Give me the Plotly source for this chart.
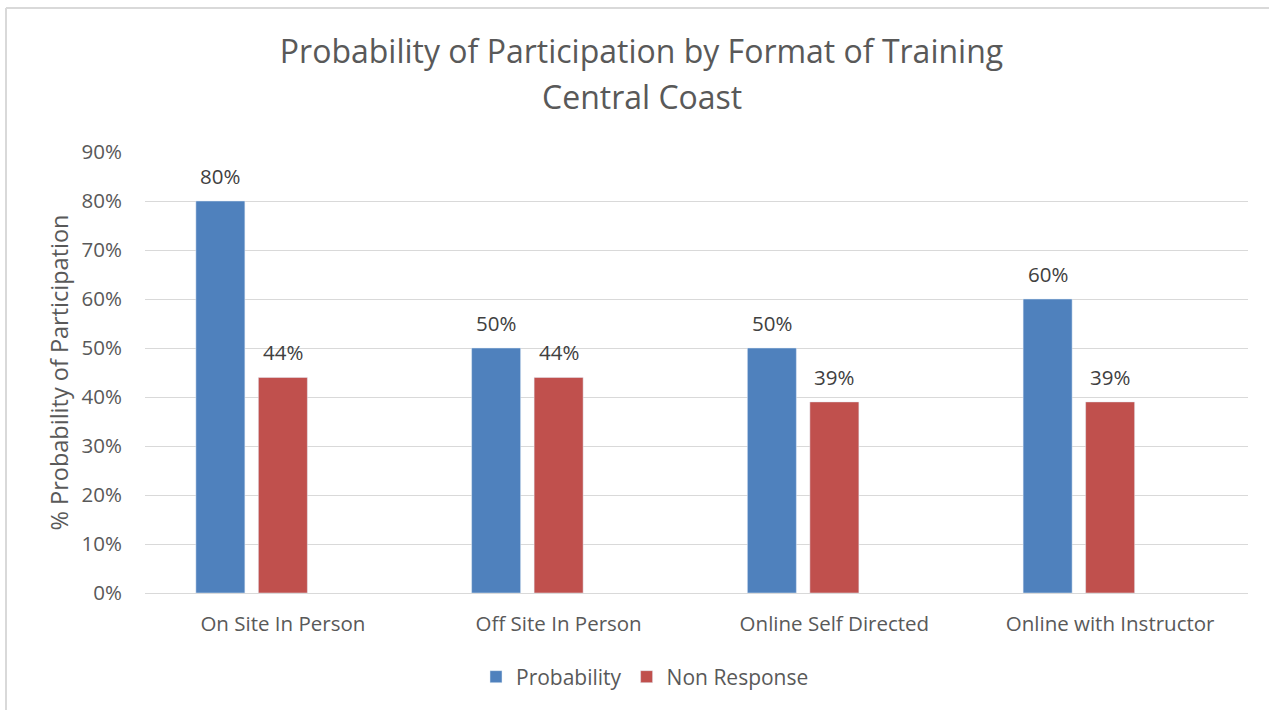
import plotly.graph_objects as go

categories = ["On Site In Person", "Off Site In Person", "Online Self Directed", "Online with Instructor"]
probability = [0.80, 0.50, 0.50, 0.60]
non_response = [0.44, 0.44, 0.39, 0.39]
empty_series = [None, None, None, None]
y_ticks = [0, 0.1, 0.2, 0.3, 0.4, 0.5, 0.6, 0.7, 0.8, 0.9]
y_tick_labels = ["0%", "10%", "20%", "30%", "40%", "50%", "60%", "70%", "80%", "90%"]

W, H = 1269, 710
ML, MR, MT, MB = 145, 21, 152, 117
PW, PH = W - ML - MR, H - MT - MB
BARGAP, GROUPGAP = 0.32, 0.216
N_SLOTS = 3
SLOT_PX = (PW / len(categories)) * (1 - BARGAP) / N_SLOTS

FONT = "Open Sans"
TXT = "#595959"
LABEL_COLOR = "#404040"

fig = go.Figure()
fig.add_trace(go.Bar(x=categories, y=probability, name="Probability",
                     marker_color="#4F81BD"))
fig.add_trace(go.Bar(x=categories, y=non_response, name="Non Response",
                     marker_color="#C0504D"))
fig.add_trace(go.Bar(x=categories, y=empty_series, name="", showlegend=False,
                     marker_color="rgba(0,0,0,0)", hoverinfo="skip"))

# data labels placed above each bar (slot offset within the category group)
for series, slot in ((probability, 0), (non_response, 1)):
    for cat, v in zip(categories, series):
        fig.add_annotation(x=cat, y=v, text=f"{v*100:.0f}%", showarrow=False,
                           xanchor="center", yanchor="bottom",
                           xshift=(slot - (N_SLOTS - 1) / 2) * SLOT_PX, yshift=9,
                           font=dict(family=FONT, size=20.5, color=LABEL_COLOR))

def px_to_paper_x(px):
    return (px - ML) / PW

def py_to_paper_y(py):
    return (H - MB - py) / PH

frame_color = "#D9D9D9"
fig.add_shape(type="line", xref="paper", yref="paper",
              x0=px_to_paper_x(6), x1=px_to_paper_x(W + 5),
              y0=py_to_paper_y(8), y1=py_to_paper_y(8),
              line=dict(color=frame_color, width=2))
fig.add_shape(type="line", xref="paper", yref="paper",
              x0=px_to_paper_x(6), x1=px_to_paper_x(6),
              y0=py_to_paper_y(8), y1=py_to_paper_y(H + 5),
              line=dict(color=frame_color, width=2))

fig.add_annotation(text="Central Coast", xref="paper", yref="paper",
                   x=px_to_paper_x(641.5), y=py_to_paper_y(97),
                   xanchor="center", yanchor="middle", showarrow=False,
                   font=dict(family=FONT, size=32, color=TXT))

fig.update_layout(
    width=W, height=H,
    margin=dict(l=ML, r=MR, t=MT, b=MB),
    paper_bgcolor="white", plot_bgcolor="white",
    font=dict(family=FONT, color=TXT),
    title=dict(text="Probability of Participation by Format of Training",
               x=641.5 / W, xref="container", xanchor="center",
               y=1 - 52 / H, yref="container", yanchor="middle",
               font=dict(family=FONT, size=32, color=TXT)),
    barmode="group", bargap=BARGAP, bargroupgap=GROUPGAP,
    showlegend=True,
    legend=dict(orientation="h", xref="container", yref="container",
                x=645 / W, xanchor="center", y=1 - 677 / H, yanchor="middle",
                font=dict(family=FONT, size=21, color=TXT),
                itemwidth=30, traceorder="normal"),
    xaxis=dict(showgrid=False, showline=False, zeroline=False,
               tickfont=dict(family=FONT, size=20.5, color=TXT),
               ticks="", ticklabelstandoff=16),
    yaxis=dict(range=[0, 0.9], tickvals=y_ticks, ticktext=y_tick_labels,
               showgrid=True, gridcolor="#D9D9D9", gridwidth=1,
               zeroline=True, zerolinecolor="#D9D9D9", zerolinewidth=1,
               showline=False, ticks="",
               tickfont=dict(family=FONT, size=20.5, color=TXT),
               ticklabelstandoff=22,
               title=dict(text="% Probability of Participation",
                          font=dict(family=FONT, size=23.5, color=TXT),
                          standoff=6)),
)

fig.write_html("out.html", config={"displayModeBar": False},
               post_script="document.body.style.margin='0px';")
